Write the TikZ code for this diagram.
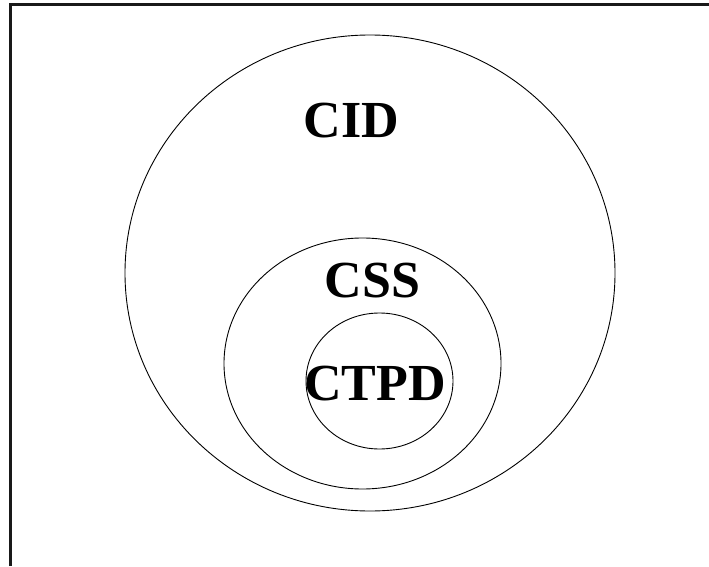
\documentclass[tikz,border=0pt]{standalone}
\usepackage{fontspec}
\setmainfont{Liberation Serif}
\begin{document}
\begin{tikzpicture}[x=1pt,y=1pt,
  ring/.style={draw=black,line width=0.9pt},
  setlabel/.style={anchor=base,inner sep=0pt,font=\fontsize{52}{52}\selectfont\bfseries}]
\useasboundingbox (0,0) rectangle (709,566);
% open frame: left and top edges only
\coordinate (fbl) at (10.5,0);
\coordinate (ftl) at (10.5,561.5);
\coordinate (ftr) at (709,561.5);
\draw[line width=2.2pt,black!90] (fbl) -- (ftl) -- (ftr);
% nested sets
\draw[ring] (370,293) ellipse [x radius=245, y radius=238];
\draw[ring] (362.5,202.5) ellipse [x radius=138.5, y radius=125.5];
\draw[ring] (379.5,185) ellipse [x radius=73.5, y radius=68];
% labels
\node[setlabel] (cid) at (351.5,428) {CID};
\node[setlabel] (css) at (372.5,269) {CSS};
\node[setlabel] (ctpd) at (375,166) {CTPD};
\end{tikzpicture}
\end{document}
